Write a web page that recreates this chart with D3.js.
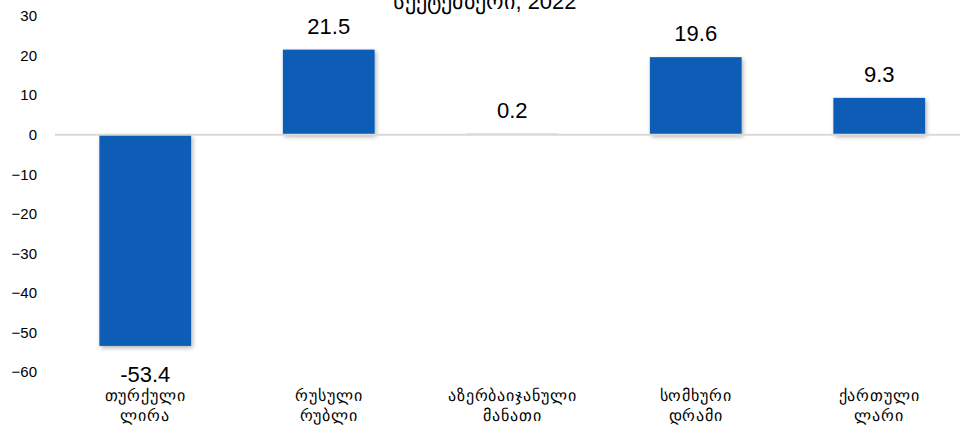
<!DOCTYPE html>
<html><head><meta charset="utf-8">
<script src="https://cdn.jsdelivr.net/npm/d3@7"></script>
<style>body{margin:0;background:#fff}svg{display:block}text{font-family:"Liberation Sans",Arial,sans-serif}</style>
</head><body><svg id="c" width="960" height="428"></svg>
<script>
const categories = [["თურქული","ლირა"],["რუსული","რუბლი"],["აზერბაიჯანული","მანათი"],["სომხური","დრამი"],["ქართული","ლარი"]];
const values = [-53.4, 21.5, 0.2, 19.6, 9.3];
const yTicks = [30,20,10,0,-10,-20,-30,-40,-50,-60];
const title = "სექტემბერი, 2022";

const svg = d3.select("#c");
const defs = svg.append("defs");
const f = defs.append("filter").attr("id","sh").attr("x","-20%").attr("y","-20%").attr("width","150%").attr("height","150%");
f.append("feDropShadow").attr("dx",1.5).attr("dy",2).attr("stdDeviation",2).attr("flood-color","#000").attr("flood-opacity",0.3);

const y = d3.scaleLinear().domain([-60,30]).range([372,16]);
const x = d3.scaleBand().domain(d3.range(categories.length)).range([53.5,971]).paddingInner(0.5).paddingOuter(0.25);

svg.append("text").attr("x",485).attr("y",9).attr("text-anchor","middle").attr("font-size",22).attr("fill","#000").text(title);

const ya = svg.append("g").attr("transform","translate(37,0)")
  .call(d3.axisLeft(y).tickValues(yTicks).tickSize(0).tickPadding(0));
ya.select(".domain").remove();
ya.selectAll("text").attr("font-size",15).attr("fill","#000").attr("font-family","Liberation Sans, Arial, sans-serif");

svg.selectAll("rect.bar").data(values).join("rect").attr("class","bar")
  .attr("x",(d,i)=>x(i)).attr("width",x.bandwidth())
  .attr("y",d=>y(Math.max(0,d))).attr("height",d=>Math.abs(y(d)-y(0)))
  .attr("fill","#0a5bb5").attr("filter","url(#sh)");

svg.append("line").attr("x1",55).attr("x2",960).attr("y1",y(0)).attr("y2",y(0)).attr("stroke","#d9d9d9").attr("stroke-width",2);

svg.selectAll("text.val").data(values).join("text").attr("class","val")
  .attr("x",(d,i)=>x(i)+x.bandwidth()/2)
  .attr("y",d=> d>=0 ? y(d)-16 : y(d)+36)
  .attr("text-anchor","middle").attr("font-size",22).attr("fill","#000")
  .text(d=>d.toFixed(1));

const cl = svg.selectAll("text.cat").data(categories).join("text").attr("class","cat")
  .attr("text-anchor","middle").attr("font-size",16).attr("letter-spacing",0.9)
  .attr("font-family","'DejaVu Sans', sans-serif").attr("fill","#000");
cl.each(function(d,i){
  const t=d3.select(this);
  d.forEach((s,j)=>t.append("tspan").attr("x",x(i)+x.bandwidth()/2).attr("y",401+j*20).text(s));
});
</script></body></html>
